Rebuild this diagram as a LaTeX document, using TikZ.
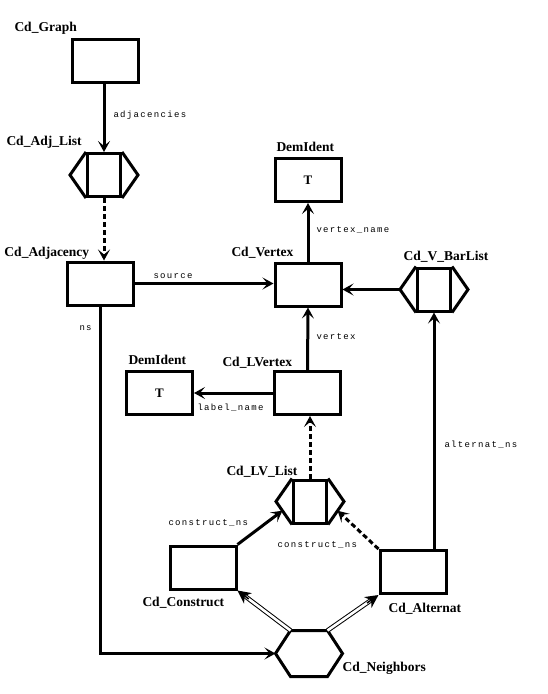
\documentclass[tikz,border=0pt]{standalone}
\usepackage{fontspec}
\setmainfont{Liberation Serif}
\newfontfamily\rolefont[LetterSpace=15]{Liberation Mono}
\usetikzlibrary{arrows.meta,calc}

\newcommand{\listends}[1]{%
\path ([xshift=-16pt]#1.west) coordinate (#1-w) ([xshift=16pt]#1.east) coordinate (#1-e);
\draw (#1.north west) -- (#1-w) -- (#1.south west);
\draw (#1.north east) -- (#1-e) -- (#1.south east);}

\begin{document}
\begin{tikzpicture}[x=1pt,y=-1pt,line width=3pt,
  box/.style={draw,rectangle,minimum width=66pt,minimum height=43pt,inner sep=0pt,font=\bfseries\fontsize{13}{13}\selectfont},
  listbox/.style={draw,rectangle,minimum width=33pt,minimum height=43pt,inner sep=0pt},
  title/.style={anchor=base west,inner sep=0pt,font=\bfseries\fontsize{13.5}{15}\selectfont},
  role/.style={anchor=base west,inner sep=0pt,font=\rolefont\fontsize{9}{11}\selectfont},
  link/.style={-{Stealth[length=11pt,width=12pt,inset=5pt]}},
  ref/.style={link,dash pattern=on 5pt off 3pt},
  isa/.style={double,line width=1pt,double distance=2.6pt,shorten >=9pt},
  isatip/.style={-{Stealth[length=13pt,width=13pt,inset=4pt]},line width=1.5pt}]
\useasboundingbox (0,0) rectangle (547,694);

\node (graph) [box] at (105,60.5) {};
\node (adjlist) [listbox] at (104,175) {};
\listends{adjlist}
\node (adjacency) [box] at (100,283.5) {};
\node (vertex) [box] at (308,284.5) {};
\node (demtop) [box] at (308,180) {T};
\node (vbar) [listbox] at (434,289.5) {};
\listends{vbar}
\node (lvertex) [box] at (307.5,393) {};
\node (demlow) [box] at (159.5,393) {T};
\node (lvlist) [listbox] at (310,501.5) {};
\listends{lvlist}
\node (construct) [box] at (203,567.5) {};
\node (alternat) [box] at (413,572) {};
\node (nbrs) [minimum width=34pt,minimum height=43pt,inner sep=0pt] at (309,653.5) {};
\path ([xshift=-15pt]nbrs.west) coordinate (nbrs-w) ([xshift=15pt]nbrs.east) coordinate (nbrs-e);
\draw (nbrs.north west) -- (nbrs.north east) -- (nbrs-e) -- (nbrs.south east)
  -- (nbrs.south west) -- (nbrs-w) -- cycle;

\node [title] at (13,31) {Cd\_Graph};
\node [title] at (5,145) {Cd\_Adj\_List};
\node [title] at (3,256) {Cd\_Adjacency};
\node [title] at (230,256) {Cd\_Vertex};
\node [title] at (275,151) {DemIdent};
\node [title] at (402,260) {Cd\_V\_BarList};
\node [title] at (221,366) {Cd\_LVertex};
\node [title] at (127,364) {DemIdent};
\node [title] at (225,475) {Cd\_LV\_List};
\node [title] at (141,606) {Cd\_Construct};
\node [title] at (387,612) {Cd\_Alternat};
\node [title] at (341,671) {Cd\_Neighbors};

\draw [link] (graph.south -| adjlist.north) -- (adjlist.north);
\node [role] at (112,117) {adjacencies};
\draw [ref] (adjlist.south) -- (adjlist.south |- adjacency.north);
\draw [link] (adjacency.east) -- (adjacency.east -| vertex.west);
\node [role] at (152,278) {source};
\draw [link] (vertex.north) -- (demtop.south);
\node [role] at (315,232) {vertex\_name};
\draw [link] (vbar-w) -- (vbar-w -| vertex.east);
\draw [link] (alternat.north -| vbar.south) -- (vbar.south);
\node [role] at (443,447) {alternat\_ns};
\draw [link] (lvertex.north) -- (vertex.south);
\node [role] at (315,339) {vertex};
\draw [link] (lvertex.west) -- (demlow.east);
\node [role] at (196,410) {label\_name};
\draw [ref] (lvlist.north) -- (lvlist.north |- lvertex.south);
\draw [link] (construct.north east) -- ($(lvlist-w)!0.4!(lvlist.south west)$);
\node [role] at (167,525) {construct\_ns};
\draw [ref] (alternat.north west) -- ($(lvlist-e)!0.4!(lvlist.south east)$);
\node [role] at (276,547) {construct\_ns};
\draw [link] (adjacency.south) |- (nbrs-w);
\node [role] at (78,330) {ns};
\draw [isa] (nbrs.north west) -- (construct.south east);
\draw [isatip] ($(construct.south east)!14pt!(nbrs.north west)$) -- (construct.south east);
\draw [isa] (nbrs.north east) -- (alternat.south west);
\draw [isatip] ($(alternat.south west)!14pt!(nbrs.north east)$) -- (alternat.south west);
\end{tikzpicture}
\end{document}
